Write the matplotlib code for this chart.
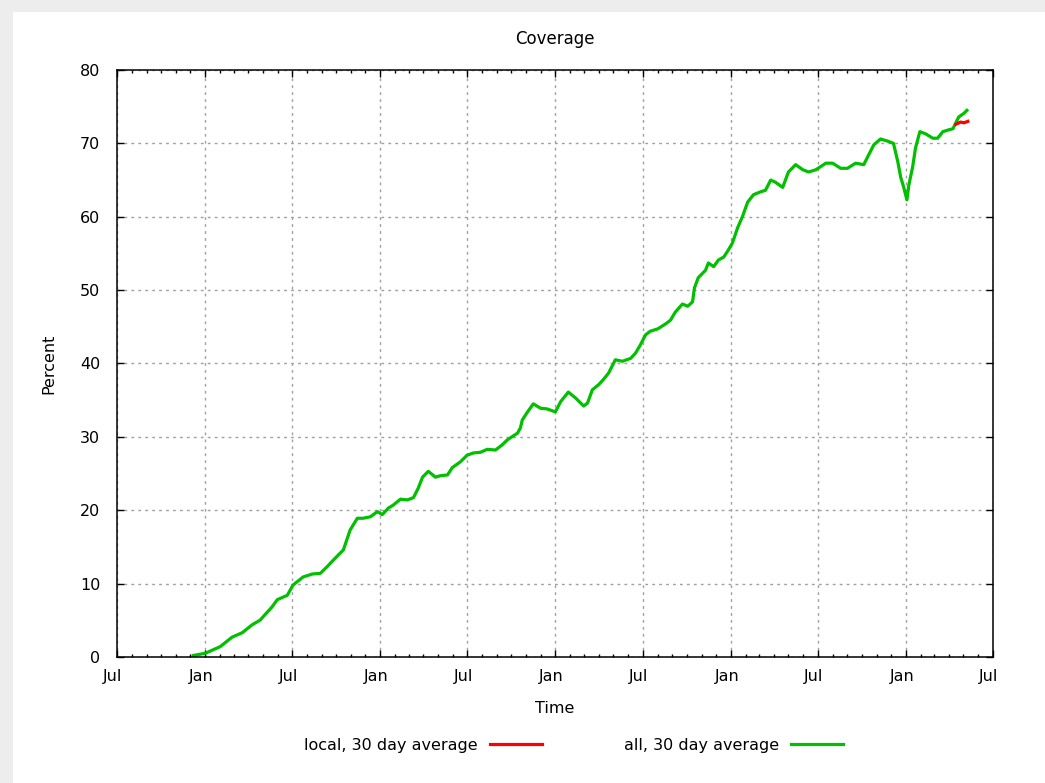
import matplotlib
matplotlib.use("Agg")
import matplotlib.pyplot as plt
import matplotlib.dates as mdates
import matplotlib.transforms as mtransforms
from matplotlib.patches import Rectangle
import numpy as np

# Coverage, 30 day averages
all_dates = [
    "2009-12-07", "2010-01-01", "2010-02-01", "2010-02-26", "2010-03-19", "2010-04-09",
    "2010-04-25", "2010-05-20", "2010-05-31", "2010-06-21", "2010-07-03", "2010-07-24",
    "2010-08-12", "2010-08-29", "2010-09-12", "2010-09-25", "2010-10-16", "2010-10-30",
    "2010-11-14", "2010-11-26", "2010-12-11", "2010-12-26", "2011-01-05", "2011-01-18",
    "2011-01-28", "2011-02-12", "2011-02-26", "2011-03-11", "2011-03-21", "2011-03-30",
    "2011-04-11", "2011-04-26", "2011-05-06", "2011-05-21", "2011-05-31", "2011-06-17",
    "2011-07-01", "2011-07-14", "2011-07-29", "2011-08-12", "2011-08-29", "2011-09-12",
    "2011-09-23", "2011-10-14", "2011-10-20", "2011-10-24", "2011-11-04", "2011-11-16",
    "2011-12-01", "2011-12-15", "2012-01-01", "2012-01-12", "2012-01-28", "2012-02-12",
    "2012-02-29", "2012-03-08", "2012-03-18", "2012-03-31", "2012-04-10", "2012-04-21",
    "2012-05-05", "2012-05-20", "2012-06-06", "2012-06-16", "2012-06-26", "2012-07-07",
    "2012-07-17", "2012-08-01", "2012-08-18", "2012-08-28", "2012-09-07", "2012-09-22",
    "2012-10-03", "2012-10-13", "2012-10-17", "2012-10-25", "2012-11-09", "2012-11-15",
    "2012-11-26", "2012-12-06", "2012-12-17", "2012-12-27", "2013-01-04", "2013-01-15",
    "2013-01-25", "2013-02-05", "2013-02-17", "2013-03-04", "2013-03-14", "2013-03-25",
    "2013-04-04", "2013-04-19", "2013-05-01", "2013-05-16", "2013-05-31", "2013-06-12",
    "2013-06-27", "2013-07-18", "2013-08-01", "2013-08-18", "2013-09-01", "2013-09-18",
    "2013-10-05", "2013-10-15", "2013-10-26", "2013-11-09", "2013-11-24", "2013-12-06",
    "2013-12-15", "2013-12-21", "2013-12-27", "2014-01-03", "2014-01-07", "2014-01-15",
    "2014-01-21", "2014-01-30", "2014-02-11", "2014-02-26", "2014-03-08", "2014-03-19",
    "2014-03-29", "2014-04-09", "2014-04-15", "2014-04-21", "2014-05-02", "2014-05-08",
]
all_pct = [
    0.2, 0.5, 1.4, 2.7, 3.3, 4.4,
    5.0, 6.8, 7.8, 8.4, 9.8, 10.9,
    11.3, 11.4, 12.3, 13.2, 14.6, 17.3,
    18.9, 18.9, 19.1, 19.8, 19.4, 20.3,
    20.7, 21.5, 21.4, 21.7, 23.0, 24.5,
    25.3, 24.5, 24.7, 24.8, 25.8, 26.6,
    27.5, 27.8, 27.9, 28.3, 28.2, 28.9,
    29.6, 30.5, 31.2, 32.3, 33.4, 34.5,
    33.9, 33.8, 33.4, 34.8, 36.1, 35.3,
    34.2, 34.6, 36.4, 37.1, 37.8, 38.7,
    40.5, 40.3, 40.7, 41.4, 42.5, 43.9,
    44.4, 44.7, 45.4, 45.9, 47.0, 48.1,
    47.8, 48.4, 50.3, 51.7, 52.7, 53.7,
    53.2, 54.1, 54.5, 55.5, 56.4, 58.5,
    60.0, 62.0, 63.0, 63.4, 63.6, 65.0,
    64.7, 64.0, 66.1, 67.1, 66.4, 66.1,
    66.4, 67.3, 67.3, 66.6, 66.6, 67.3,
    67.1, 68.4, 69.8, 70.6, 70.3, 70.0,
    67.5, 65.4, 64.1, 62.3, 64.3, 66.8,
    69.4, 71.6, 71.3, 70.7, 70.7, 71.6,
    71.8, 72.0, 72.8, 73.6, 74.1, 74.5,
]
local_dates = ["2014-04-15", "2014-04-25", "2014-05-02", "2014-05-10"]
local_pct = [72.6, 72.9, 72.8, 73.0]

fs = 11.5

fig = plt.figure(figsize=(10.45, 7.83), dpi=100, facecolor="#ededed")
fig.patches.append(Rectangle((0.012, 0), 0.988, 0.985, transform=fig.transFigure,
                             facecolor="white", edgecolor="none", zorder=-10))
ax = fig.add_axes([0.112, 0.161, 0.838, 0.7496])

ax.plot(np.array(local_dates, dtype="datetime64[D]"), local_pct,
        color="#ff0000", lw=2.3, label="local, 30 day average", zorder=3)
ax.plot(np.array(all_dates, dtype="datetime64[D]"), all_pct,
        color="#00c000", lw=2.3, label="all, 30 day average", zorder=2)

ax.set_xlim(np.datetime64("2009-07-01"), np.datetime64("2014-07-01"))
ax.set_ylim(0, 80)
ax.set_yticks(range(0, 81, 10))
ax.xaxis.set_major_locator(mdates.MonthLocator(bymonth=[1, 7]))
ax.xaxis.set_major_formatter(mdates.DateFormatter("%b"))
ax.xaxis.set_minor_locator(mdates.MonthLocator())

ax.tick_params(which="both", direction="in", top=True, right=True,
               labelsize=fs, colors="black")
ax.tick_params(axis="x", pad=9)
ax.tick_params(axis="y", pad=12)
ax.tick_params(which="major", length=5, width=1)
ax.tick_params(which="minor", length=2.5, width=1)
ax.tick_params(axis="y", which="minor", right=False, left=False)
for s in ax.spines.values():
    s.set_linewidth(1.1)

# month labels sit a little left of their ticks
shift = mtransforms.ScaledTranslation(-4 / 100, 0, fig.dpi_scale_trans)
for lbl in ax.get_xticklabels():
    lbl.set_transform(lbl.get_transform() + shift)

ax.grid(True, which="major", color="#a0a0a0", linestyle=(0, (2, 3)), lw=1)
ax.set_axisbelow(True)

ax.set_title("Coverage", fontsize=fs + 0.5, pad=19)
ax.set_xlabel("Time", fontsize=fs, labelpad=12)
ax.set_ylabel("Percent", fontsize=fs, labelpad=17)

fig.legend(loc="center", bbox_to_anchor=(0.549, 0.0485), ncol=2, frameon=False,
           markerfirst=False, handlelength=3.3, handletextpad=0.75,
           columnspacing=5.1, fontsize=fs)

fig.savefig("out.png", dpi=100)
